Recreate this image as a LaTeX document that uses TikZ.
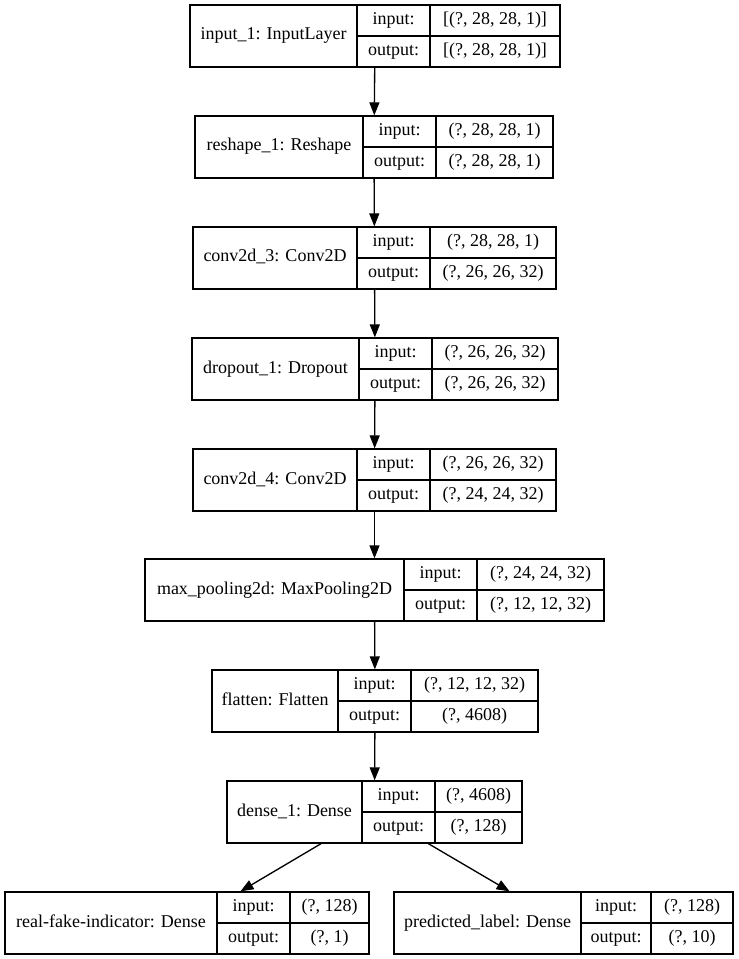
\documentclass[tikz,border=0pt]{standalone}
\usepackage{fontspec}
\setmainfont{Liberation Serif}
\usetikzlibrary{arrows.meta}
\tikzset{
  recbox/.style={draw, line width=1pt, inner sep=0pt, rectangle},
  celltxt/.style={inner sep=0pt, font=\fontsize{13.5}{16}\selectfont, text height=0.8em, text depth=0.2em},
  sepline/.style={line width=1pt},
  flowarrow/.style={line width=1pt, -{Triangle[length=9.75pt,width=7.5pt]}}
}
% #1 name, #2 top, #3 left, #4 divider 1, #5 divider 2, #6 right, #7 label, #8 input, #9 output
\newcommand{\krlayer}[9]{%
  \node[recbox, minimum width={(#6-#3)*0.75pt}, minimum height=46.5pt] (#1) at ({(#3+#6)/2},{#2+31}) {};
  \draw[sepline] (#4,#2) -- (#4,{#2+62});
  \draw[sepline] (#5,#2) -- (#5,{#2+62});
  \draw[sepline] (#4,{#2+31}) -- (#6,{#2+31});
  \node[celltxt] (#1-lab) at ({(#3+#4)/2},{#2+31}) {#7};
  \node[celltxt] (#1-ik) at ({(#4+#5)/2},{#2+15.5}) {input:};
  \node[celltxt] (#1-ok) at ({(#4+#5)/2},{#2+46.5}) {output:};
  \node[celltxt] (#1-iv) at ({(#5+#6)/2},{#2+15.5}) {#8};
  \node[celltxt] (#1-ov) at ({(#5+#6)/2},{#2+46.5}) {#9};
}
\begin{document}
\begin{tikzpicture}[x=0.75pt,y=-0.75pt]
\useasboundingbox (0,0) rectangle (738,959);
\fill[white] (0,0) rectangle (738,959);
\krlayer{in1}{5}{190}{357}{430}{560}{input\_1: InputLayer}{[(?, 28, 28, 1)]}{[(?, 28, 28, 1)]}
\krlayer{resh}{116}{195}{363}{436}{553}{reshape\_1: Reshape}{(?, 28, 28, 1)}{(?, 28, 28, 1)}
\krlayer{convA}{227}{193}{357}{430}{556}{conv2d\_3: Conv2D}{(?, 28, 28, 1)}{(?, 26, 26, 32)}
\krlayer{drop}{338}{192}{359}{432}{558}{dropout\_1: Dropout}{(?, 26, 26, 32)}{(?, 26, 26, 32)}
\krlayer{convB}{449}{193}{357}{430}{556}{conv2d\_4: Conv2D}{(?, 26, 26, 32)}{(?, 24, 24, 32)}
\krlayer{pool}{559}{145}{404}{477}{604}{max\_pooling2d: MaxPooling2D}{(?, 24, 24, 32)}{(?, 12, 12, 32)}
\krlayer{flat}{670}{212}{338}{411}{538}{flatten: Flatten}{(?, 12, 12, 32)}{(?, 4608)}
\krlayer{dense}{781}{227}{362}{435}{522}{dense\_1: Dense}{(?, 4608)}{(?, 128)}
\krlayer{rf}{892}{5}{217}{290}{369}{real-fake-indicator: Dense}{(?, 128)}{(?, 1)}
\krlayer{pl}{892}{394}{581}{651}{733}{predicted\_label: Dense}{(?, 128)}{(?, 10)}
\draw[flowarrow] (in1) -- (resh);
\draw[flowarrow] (resh) -- (convA);
\draw[flowarrow] (convA) -- (drop);
\draw[flowarrow] (drop) -- (convB);
\draw[flowarrow] (convB) -- (pool);
\draw[flowarrow] (pool) -- (flat);
\draw[flowarrow] (flat) -- (dense);
\draw[flowarrow] (dense) -- (rf);
\draw[flowarrow] (dense) -- (pl);
\end{tikzpicture}
\end{document}
